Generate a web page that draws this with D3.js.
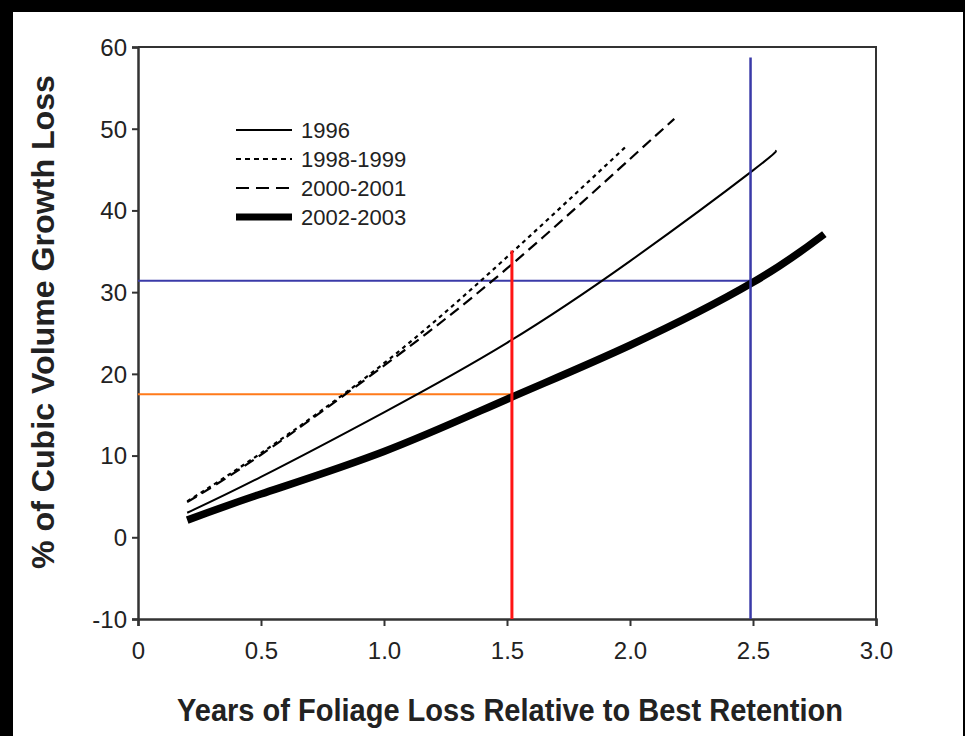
<!DOCTYPE html>
<html>
<head>
<meta charset="utf-8">
<script src="https://cdn.jsdelivr.net/npm/d3@7"></script>
<style>
  html, body { margin: 0; padding: 0; background: #000; }
  svg { display: block; }
  text { font-family: "Liberation Sans", Arial, Helvetica, sans-serif; fill: #222; }
</style>
</head>
<body>
<svg id="chart" width="965" height="736"></svg>
<script>
// ---- data ----
const xTicks = [0, 0.5, 1.0, 1.5, 2.0, 2.5, 3.0];
const xTickLabels = ["0", "0.5", "1.0", "1.5", "2.0", "2.5", "3.0"];
const yTicks = [-10, 0, 10, 20, 30, 40, 50, 60];
const yTickLabels = ["-10", "0", "10", "20", "30", "40", "50", "60"];

const seriesNames = ["1996", "1998-1999", "2000-2001", "2002-2003"];

const x1996 = [0.2, 0.5, 1.0, 1.5, 2.0, 2.5, 2.59];
const y1996 = [3.0, 7.4, 15.3, 23.8, 33.8, 44.9, 47.3];

const x1998 = [0.2, 0.5, 1.0, 1.5, 1.99];
const y1998 = [4.4, 10.3, 21.3, 34.3, 48.0];

const x2000 = [0.2, 0.5, 1.0, 1.5, 2.0, 2.18];
const y2000 = [4.3, 10.1, 21.0, 32.9, 46.3, 51.2];

const x2002 = [0.2, 0.5, 1.0, 1.5, 2.0, 2.5, 2.79];
const y2002 = [2.1, 5.3, 10.5, 16.9, 23.5, 31.2, 37.1];

// reference lines
const redX = 1.52, redTop = 35.1;
const blueX = 2.49, blueTop = 58.7;
const blueY = 31.4;
const orangeY = 17.5;

// ---- layout ----
const svg = d3.select("#chart");
svg.append("rect").attr("x", 0).attr("y", 0).attr("width", 965).attr("height", 736).attr("fill", "#000");
svg.append("rect").attr("x", 13).attr("y", 12).attr("width", 950).attr("height", 724).attr("fill", "#fff");

const x = d3.scaleLinear().domain([0, 3]).range([138, 876]);
const y = d3.scaleLinear().domain([-10, 60]).range([619, 47]);

const axisColor = "#333";

// frame (top and right)
svg.append("path")
  .attr("d", `M${x(0)},${y(60)}H${x(3)}V${y(-10)}`)
  .attr("fill", "none").attr("stroke", axisColor).attr("stroke-width", 2);

// axes
const gx = svg.append("g").attr("transform", `translate(0,${y(-10)})`)
  .call(d3.axisBottom(x).tickValues(xTicks).tickFormat((d, i) => xTickLabels[i]).tickSize(7).tickPadding(16));
const gy = svg.append("g").attr("transform", `translate(${x(0)},0)`)
  .call(d3.axisLeft(y).tickValues(yTicks).tickFormat((d, i) => yTickLabels[i]).tickSize(6).tickPadding(5));
[gx, gy].forEach(g => {
  g.select(".domain").attr("stroke", axisColor).attr("stroke-width", 2.5);
  g.selectAll(".tick line").attr("stroke", axisColor).attr("stroke-width", 2);
  g.selectAll(".tick text").attr("font-size", 24).attr("fill", "#222")
    .attr("font-family", '"Liberation Sans", Arial, sans-serif');
});
gy.selectAll(".tick text").attr("dy", "0.35em");

// reference lines
svg.append("line").attr("x1", x(0)).attr("x2", x(blueX)).attr("y1", y(blueY)).attr("y2", y(blueY))
  .attr("stroke", "#3a3aa8").attr("stroke-width", 2);
svg.append("line").attr("x1", x(0)).attr("x2", x(redX)).attr("y1", y(orangeY)).attr("y2", y(orangeY))
  .attr("stroke", "#ff7a1a").attr("stroke-width", 2);

// curves
const line = d3.line().x(d => x(d[0])).y(d => y(d[1])).curve(d3.curveNatural);
const zip = (xs, ys) => xs.map((v, i) => [v, ys[i]]);
const styles = [
  { data: zip(x1996, y1996), w: 2, dash: null },
  { data: zip(x1998, y1998), w: 2.2, dash: "4,4" },
  { data: zip(x2000, y2000), w: 2.2, dash: "11,6" },
  { data: zip(x2002, y2002), w: 7.5, dash: null }
];
styles.forEach(s => {
  svg.append("path").attr("d", line(s.data)).attr("fill", "none")
    .attr("stroke", "#000").attr("stroke-width", s.w)
    .attr("stroke-dasharray", s.dash);
});

// vertical reference lines (on top)
svg.append("line").attr("x1", x(redX)).attr("x2", x(redX)).attr("y1", y(-10)).attr("y2", y(redTop))
  .attr("stroke", "#ff1414").attr("stroke-width", 3);
svg.append("line").attr("x1", x(blueX)).attr("x2", x(blueX)).attr("y1", y(-10)).attr("y2", y(blueTop))
  .attr("stroke", "#3a3aa8").attr("stroke-width", 2.5);

// legend
const leg = svg.append("g");
seriesNames.forEach((n, i) => {
  const yy = 130 + i * 29;
  leg.append("line").attr("x1", 236).attr("x2", 292).attr("y1", yy).attr("y2", yy)
    .attr("stroke", "#000").attr("stroke-width", styles[i].w === 7.5 ? 7 : 2.2)
    .attr("stroke-dasharray", styles[i].dash === "11,6" ? "13,7" : (styles[i].dash ? "5,4" : null));
  leg.append("text").attr("x", 301).attr("y", yy + 7.5).attr("font-size", 22).text(n);
});

// axis titles
svg.append("text").attr("x", 510).attr("y", 721).attr("text-anchor", "middle")
  .attr("font-size", 32).attr("font-weight", "bold").attr("fill", "#111")
  .attr("textLength", 666).attr("lengthAdjust", "spacingAndGlyphs")
  .text("Years of Foliage Loss Relative to Best Retention");
svg.append("text").attr("transform", "translate(54,322) rotate(-90)").attr("text-anchor", "middle")
  .attr("font-size", 31).attr("font-weight", "bold").attr("fill", "#111")
  .attr("textLength", 494).attr("lengthAdjust", "spacingAndGlyphs")
  .text("% of Cubic Volume Growth Loss");
</script>
</body>
</html>
